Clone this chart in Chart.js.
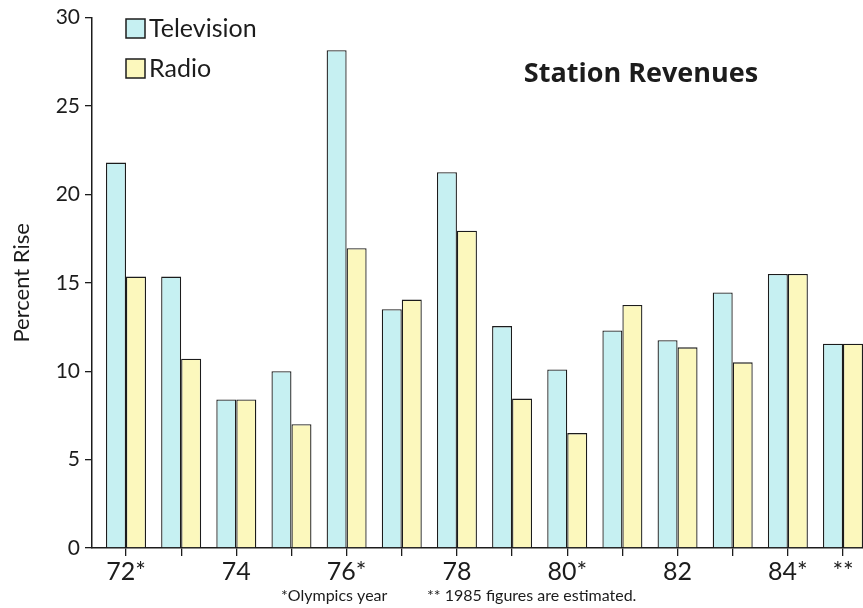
<!DOCTYPE html>
<html>
<head>
<meta charset="utf-8">
<script src="https://cdn.jsdelivr.net/npm/chart.js@4/dist/chart.umd.min.js"></script>
<style>
  html, body { margin: 0; padding: 0; background: #fff; }
  #wrap { width: 863px; height: 608px; overflow: hidden; position: relative; }
  #wrap canvas { position: absolute; left: 0; top: 0; }
</style>
</head>
<body>
<div id="wrap"><canvas id="chart" width="880" height="608"></canvas></div>
<script>
// data (percent rise over previous year)
const years = ["72*", "73", "74", "75", "76*", "77", "78", "79", "80*", "81", "82", "83", "84*", "**"];
const tickLabels = ["72*", "", "74", "", "76*", "", "78", "", "80*", "", "82", "", "84*", "**"];
const television = [21.8, 15.35, 8.4, 10.0, 28.15, 13.5, 21.25, 12.55, 10.1, 12.3, 11.75, 14.45, 15.5, 11.55];
const radio = [15.35, 10.7, 8.4, 7.0, 16.95, 14.05, 17.95, 8.45, 6.5, 13.75, 11.35, 10.5, 15.5, 11.55];
const chartTitle = "Station Revenues";
const footnotes = ["*Olympics year", "** 1985 figures are estimated."];

const FONT = "Lato, 'Open Sans', sans-serif";
const INK = "#1c1c1c";

// titre, légende et notes dessinés à la main
const decorations = {
    id: "decorations",
    afterDraw(chart) {
        const ctx = chart.ctx;
        ctx.save();
        ctx.fillStyle = INK;
        ctx.font = "bold 27px 'Open Sans', sans-serif";
        ctx.textAlign = "center";
        ctx.textBaseline = "alphabetic";
        ctx.fillText(chartTitle, 641, 82);

        chart.data.datasets.forEach((ds, i) => {
            const y = 19 + i * 40;
            ctx.fillStyle = ds.backgroundColor;
            ctx.fillRect(126, y, 19, 19);
            ctx.strokeStyle = INK;
            ctx.lineWidth = 1.5;
            ctx.strokeRect(126, y, 19, 19);
            ctx.fillStyle = INK;
            ctx.font = "25px " + FONT;
            ctx.textAlign = "left";
            ctx.textBaseline = "middle";
            ctx.fillText(ds.label, 149, y + 10);
        });

        ctx.font = "16px " + FONT;
        ctx.textAlign = "left";
        ctx.textBaseline = "middle";
        ctx.fillText(footnotes[0], 281, 596);
        ctx.fillText(footnotes[1], 427, 596);
        ctx.restore();
    }
};

const ctx = document.getElementById("chart").getContext("2d");
new Chart(ctx, {
    type: "bar",
    data: {
        datasets: [{
            label: "Television",
            data: television.map((v, i) => ({ x: i, y: v })),
            backgroundColor: "#c6f0f2",
            borderColor: INK,
            borderWidth: 1.3
        }, {
            label: "Radio",
            data: radio.map((v, i) => ({ x: i, y: v })),
            backgroundColor: "#fcf8bd",
            borderColor: INK,
            borderWidth: 1.3
        }]
    },
    options: {
        responsive: false,
        animation: false,
        layout: { padding: { top: 8, right: 5, bottom: 20, left: 0 } },
        categoryPercentage: 0.725,
        barPercentage: 1.0,
        plugins: {
            legend: { display: false },
            tooltip: { enabled: false }
        },
        scales: {
            x: {
                type: "linear",
                offset: false,
                min: -0.6165,
                max: 13.58,
                afterFit: s => { s.height = 40; },
                grid: { offset: false, drawOnChartArea: false, tickLength: 8, color: INK, lineWidth: 1.3 },
                border: { color: INK, width: 1.5 },
                ticks: {
                    stepSize: 1,
                    includeBounds: false,
                    autoSkip: false,
                    maxRotation: 0,
                    padding: 1,
                    color: INK,
                    font: { family: FONT, size: 25 },
                    callback: v => tickLabels[v] ?? ""
                }
            },
            y: {
                min: 0,
                max: 30,
                afterFit: s => { s.width = 92; },
                grid: { drawOnChartArea: false, tickLength: 7, color: INK, lineWidth: 1.3 },
                border: { color: INK, width: 1.5 },
                ticks: {
                    stepSize: 5,
                    padding: 5,
                    color: INK,
                    font: { family: FONT, size: 21 }
                },
                title: {
                    display: true,
                    text: "Percent Rise",
                    color: INK,
                    font: { family: FONT, size: 22 },
                    padding: { top: 9, bottom: 0 }
                }
            }
        }
    },
    plugins: [decorations]
});
</script>
</body>
</html>
